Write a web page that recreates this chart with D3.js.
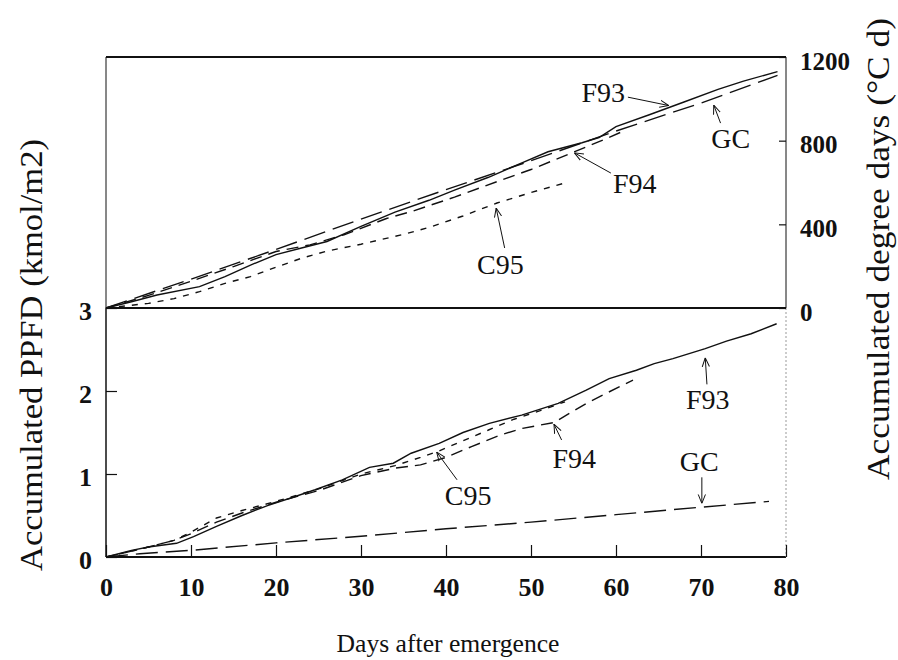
<!DOCTYPE html>
<html>
<head>
<meta charset="utf-8">
<script src="https://cdn.jsdelivr.net/npm/d3@7"></script>
<style>
  html, body { margin: 0; padding: 0; background: #fff; }
  svg { display: block; }
  svg text { font-family: "Liberation Serif", "Times New Roman", Times, serif; }
</style>
</head>
<body>
<svg id="chart" width="898" height="660"></svg>
<script>
// ---- Accumulated degree days (°C d), upper panel ----
const ddDaysF93 = [0, 3, 6, 11, 14, 17, 20, 23, 26, 30, 34, 38, 41, 45, 49, 52, 56, 58, 60, 64, 68, 72, 75, 79];
const ddF93     = [0, 30, 62, 102, 150, 205, 255, 287, 318, 390, 458, 515, 564, 625, 695, 747, 790, 815, 867, 925, 985, 1045, 1085, 1130];
const ddDaysF94 = [0, 5, 10, 15, 20, 24, 28, 33, 36, 41, 46, 50, 55, 58, 61];
const ddF94     = [0, 60, 128, 198, 270, 302, 350, 428, 462, 530, 604, 662, 745, 795, 848];
const ddDaysC95 = [0, 5, 8, 11, 14, 17, 20, 23, 26, 30, 35, 38, 42, 46, 50, 54];
const ddC95     = [0, 22, 45, 78, 118, 150, 195, 238, 272, 305, 352, 385, 440, 502, 552, 598];
const ddDaysGC  = [0, 10, 20, 30, 40, 50, 60, 70, 79];
const ddGC      = [0, 138, 280, 425, 566, 704, 846, 980, 1112];

// ---- Accumulated PPFD (kmol/m2), lower panel ----
const pDaysF93 = [0, 3, 5, 8.3, 10.3, 13, 16, 19, 22, 24.6, 27.8, 31, 33.8, 35.9, 39.2, 42, 45.1, 48.9, 53.2, 56.5, 59.2, 62.4, 64.5, 66.7, 70.5, 73, 75.9, 78.9];
const pF93     = [0, 0.08, 0.12, 0.165, 0.245, 0.37, 0.5, 0.62, 0.72, 0.81, 0.93, 1.08, 1.13, 1.25, 1.37, 1.5, 1.61, 1.71, 1.85, 2.01, 2.15, 2.25, 2.33, 2.39, 2.51, 2.6, 2.69, 2.81];
const pDaysF94 = [0, 3, 5, 8, 10, 13, 16, 20, 25, 30, 34, 37, 40, 43, 46.4, 49, 52.7, 56.5, 59, 62];
const pF94     = [0, 0.07, 0.12, 0.2, 0.28, 0.42, 0.53, 0.66, 0.8, 0.98, 1.07, 1.11, 1.2, 1.33, 1.47, 1.55, 1.62, 1.85, 1.98, 2.13];
const pDaysC95 = [0, 3, 5, 8, 10, 13, 16, 20, 25, 30, 34, 37, 39, 42, 45, 48, 51, 54];
const pC95     = [0, 0.07, 0.12, 0.2, 0.3, 0.47, 0.56, 0.67, 0.82, 1.0, 1.1, 1.2, 1.27, 1.4, 1.53, 1.66, 1.76, 1.87];
const pDaysGC  = [0, 4, 10, 20, 30, 40, 50, 60, 70, 78];
const pGC      = [0, 0.04, 0.08, 0.17, 0.25, 0.34, 0.42, 0.51, 0.6, 0.67];

// ---- Axis ticks ----
const dayTicks = [0, 10, 20, 30, 40, 50, 60, 70, 80];
const ddTicks = [0, 400, 800, 1200];
const ppfdTicks = [0, 1, 2, 3];

// ---- Curve labels: name, panel, text anchor point and arrow (in data units) ----
const labelNames  = ["F93", "GC", "F94", "C95", "F93", "F94", "C95", "GC"];
const labelPanels = ["dd", "dd", "dd", "dd", "p", "p", "p", "p"];
const labelAt     = [[58.5, 1032], [73.5, 812], [62.2, 598], [46.4, 210], [70.8, 1.9], [55.1, 1.19], [42.6, 0.75], [69.8, 1.157]];
const arrowFrom   = [[61.4, 1008], [72.3, 884], [59.4, 645], [46.9, 287], [70.7, 2.08], [53.6, 1.41], [41.3, 0.93], [70.1, 0.96]];
const arrowTo     = [[66.2, 968], [71.5, 970], [55.1, 742], [45.9, 478], [70.5, 2.40], [52.7, 1.60], [38.9, 1.265], [70.1, 0.645]];

const SERIF = "'Liberation Serif', 'Times New Roman', Times, serif";
const svg = d3.select("#chart");

const x = d3.scaleLinear().domain([0, 80]).range([106, 786]);
const yDD = d3.scaleLinear().domain([0, 1200]).range([308, 57]);
const yP = d3.scaleLinear().domain([0, 3]).range([557, 308]);

const dash = { F93: null, F94: "12,7", C95: "6,7", GC: "22,8" };

// arrowhead
svg.append("defs").append("marker")
  .attr("id", "head")
  .attr("viewBox", "0 0 10 10")
  .attr("refX", 10).attr("refY", 5)
  .attr("markerWidth", 9).attr("markerHeight", 9)
  .attr("markerUnits", "userSpaceOnUse")
  .attr("orient", "auto")
  .append("path")
  .attr("d", "M0,1 L10,5 L0,9")
  .attr("fill", "none").attr("stroke", "#111").attr("stroke-width", 1.1);

// ---- frames ----
const frame = svg.append("g").attr("stroke", "#111").attr("fill", "none");
frame.append("line").attr("x1", x(0)).attr("x2", x(80)).attr("y1", yDD(1200)).attr("y2", yDD(1200)).attr("stroke-width", 2);
frame.append("line").attr("x1", x(0)).attr("x2", x(80)).attr("y1", yDD(0)).attr("y2", yDD(0)).attr("stroke-width", 2);
frame.append("line").attr("x1", x(0)).attr("x2", x(80)).attr("y1", yP(0)).attr("y2", yP(0)).attr("stroke-width", 2);
frame.append("line").attr("x1", x(0)).attr("x2", x(0)).attr("y1", yDD(1200)).attr("y2", yDD(0)).attr("stroke-width", 1);
frame.append("line").attr("x1", x(0)).attr("x2", x(0)).attr("y1", yP(3)).attr("y2", yP(0)).attr("stroke-width", 1.5);
frame.append("line").attr("x1", x(80)).attr("x2", x(80)).attr("y1", yDD(1200)).attr("y2", yDD(0)).attr("stroke-width", 1);
frame.append("line").attr("x1", x(80)).attr("x2", x(80)).attr("y1", yP(3)).attr("y2", yP(0))
  .attr("stroke-width", 1).attr("stroke", "#999").attr("stroke-dasharray", "2,2");

// ---- axes ----
function styleAxis(g, size) {
  g.attr("font-family", SERIF);
  g.select(".domain").remove();
  g.selectAll(".tick line").attr("stroke", "#111").attr("stroke-width", 1.2);
  g.selectAll(".tick text")
    .attr("fill", "#111")
    .attr("font-family", SERIF)
    .attr("font-size", size)
    .attr("font-weight", "bold");
}

const intFmt = d3.format("d");

svg.append("g")
  .attr("transform", `translate(0,${yP(0)})`)
  .call(d3.axisBottom(x).tickValues(dayTicks).tickFormat(intFmt).tickSize(-12).tickPadding(21))
  .call(g => styleAxis(g, 26))
  .call(g => g.selectAll(".tick text").attr("y", 21));

svg.append("g")
  .attr("transform", `translate(${x(0)},0)`)
  .call(d3.axisLeft(yP).tickValues(ppfdTicks).tickFormat(intFmt).tickSize(-11).tickPadding(14))
  .call(g => styleAxis(g, 26))
  .call(g => g.selectAll(".tick text").attr("dy", "0.45em"));

svg.append("g")
  .attr("transform", `translate(${x(80)},0)`)
  .call(d3.axisRight(yDD).tickValues(ddTicks).tickFormat(intFmt).tickSize(-7).tickPadding(14))
  .call(g => styleAxis(g, 25))
  .call(g => g.selectAll(".tick text").attr("dy", "0.48em"));

// ---- curves ----
function drawCurve(days, vals, yScale, name) {
  const pts = days.map((d, i) => [d, vals[i]]);
  svg.append("path")
    .datum(pts)
    .attr("fill", "none")
    .attr("stroke", "#111")
    .attr("stroke-width", 1.4)
    .attr("stroke-dasharray", dash[name])
    .attr("d", d3.line().x(p => x(p[0])).y(p => yScale(p[1])));
}

drawCurve(ddDaysGC, ddGC, yDD, "GC");
drawCurve(ddDaysC95, ddC95, yDD, "C95");
drawCurve(ddDaysF94, ddF94, yDD, "F94");
drawCurve(ddDaysF93, ddF93, yDD, "F93");

drawCurve(pDaysGC, pGC, yP, "GC");
drawCurve(pDaysC95, pC95, yP, "C95");
drawCurve(pDaysF94, pF94, yP, "F94");
drawCurve(pDaysF93, pF93, yP, "F93");

// ---- curve labels with arrows ----
labelNames.forEach((name, i) => {
  const ys = labelPanels[i] === "dd" ? yDD : yP;
  svg.append("line")
    .attr("x1", x(arrowFrom[i][0])).attr("y1", ys(arrowFrom[i][1]))
    .attr("x2", x(arrowTo[i][0])).attr("y2", ys(arrowTo[i][1]))
    .attr("stroke", "#111").attr("stroke-width", 1)
    .attr("marker-end", "url(#head)");
  svg.append("text")
    .attr("x", x(labelAt[i][0])).attr("y", ys(labelAt[i][1]))
    .attr("dy", "0.35em")
    .attr("text-anchor", "middle")
    .attr("fill", "#111")
    .attr("font-family", SERIF)
    .attr("font-size", 28)
    .text(name);
});

// ---- axis titles ----
svg.append("text")
  .attr("transform", "translate(42,355) rotate(-90)")
  .attr("text-anchor", "middle")
  .attr("fill", "#111")
  .attr("font-family", SERIF)
  .attr("font-size", 31)
  .attr("textLength", 432).attr("lengthAdjust", "spacingAndGlyphs")
  .text("Accumulated PPFD (kmol/m2)");

svg.append("text")
  .attr("transform", "translate(889,249) rotate(-90)")
  .attr("text-anchor", "middle")
  .attr("fill", "#111")
  .attr("font-family", SERIF)
  .attr("font-size", 31)
  .attr("textLength", 462).attr("lengthAdjust", "spacingAndGlyphs")
  .text("Accumulated degree days (°C d)");

svg.append("text")
  .attr("x", 448).attr("y", 652)
  .attr("text-anchor", "middle")
  .attr("fill", "#111")
  .attr("font-family", SERIF)
  .attr("font-size", 25)
  .attr("textLength", 223).attr("lengthAdjust", "spacingAndGlyphs")
  .text("Days after emergence");
</script>
</body>
</html>
